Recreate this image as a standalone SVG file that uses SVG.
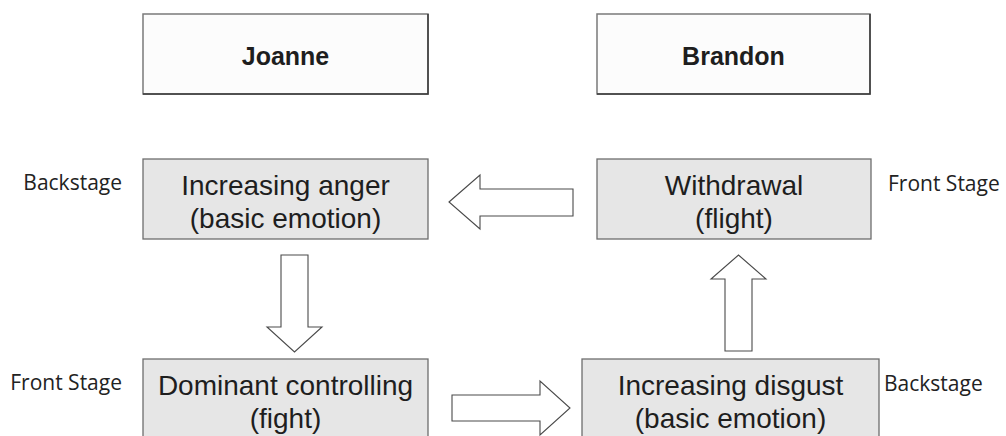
<svg xmlns="http://www.w3.org/2000/svg" width="1006" height="436" viewBox="0 0 1006 436">
  <style>
    .head { fill: #fcfcfc; stroke: #7a7a7a; stroke-width: 1.5; }
    .shade { stroke: #3a3a3a; stroke-width: 1.5; fill: none; }
    .box { fill: #e6e6e6; stroke: #6e6e6e; stroke-width: 1.3; }
    .name { font-family: "Liberation Sans", Arial, sans-serif; font-weight: bold; font-size: 25px; fill: #1e1e1e; text-anchor: middle; }
    .txt { font-family: "Liberation Sans", Arial, sans-serif; font-size: 28px; fill: #1e1e1e; text-anchor: middle; }
    .lbl { font-family: "Open Sans", "Noto Sans", sans-serif; font-size: 21px; fill: #222; }
    .arrow { fill: #ffffff; stroke: #4a4a4a; stroke-width: 1.1; stroke-linejoin: miter; }
  </style>

  <!-- column headers -->
  <g id="joanne">
    <rect class="head" x="143" y="14" width="285" height="80"/>
    <polyline class="shade" points="143,94 428,94 428,14"/>
    <text class="name" x="285.5" y="65">Joanne</text>
  </g>
  <g id="brandon">
    <rect class="head" x="597" y="14" width="273" height="80"/>
    <polyline class="shade" points="597,94 870,94 870,14"/>
    <text class="name" x="733.5" y="65">Brandon</text>
  </g>

  <!-- stage states -->
  <g id="increasing-anger">
    <rect class="box" x="143" y="159" width="285" height="80"/>
    <text class="txt" x="285.5" y="195">Increasing anger</text>
    <text class="txt" x="285.5" y="228">(basic emotion)</text>
    <text class="lbl" x="122" y="190" text-anchor="end">Backstage</text>
  </g>
  <g id="withdrawal">
    <rect class="box" x="597" y="159" width="274" height="80"/>
    <text class="txt" x="734" y="195">Withdrawal</text>
    <text class="txt" x="734" y="228">(flight)</text>
    <text class="lbl" x="888" y="191">Front Stage</text>
  </g>
  <g id="dominant-controlling">
    <rect class="box" x="143" y="359" width="285" height="90"/>
    <text class="txt" x="285.5" y="395">Dominant controlling</text>
    <text class="txt" x="285.5" y="428">(fight)</text>
    <text class="lbl" x="122" y="390" text-anchor="end">Front Stage</text>
  </g>
  <g id="increasing-disgust">
    <rect class="box" x="582" y="359" width="297" height="90"/>
    <text class="txt" x="730.5" y="395">Increasing disgust</text>
    <text class="txt" x="730.5" y="428">(basic emotion)</text>
    <text class="lbl" x="884" y="391">Backstage</text>
  </g>

  <!-- block arrows between states -->
  <g id="connectors">
    <polygon class="arrow" points="449,202 480,175 480,189 573,189 573,216 480,216 480,229"/>
    <polygon class="arrow" points="281,255 308,255 308,327 322,327 294.5,352 267,327 281,327"/>
    <polygon class="arrow" points="452,395 540,395 540,381 570,408 540,435 540,421 452,421"/>
    <polygon class="arrow" points="725,351 725,279 711,279 738.5,255 766,279 752,279 752,351"/>
  </g>
</svg>
